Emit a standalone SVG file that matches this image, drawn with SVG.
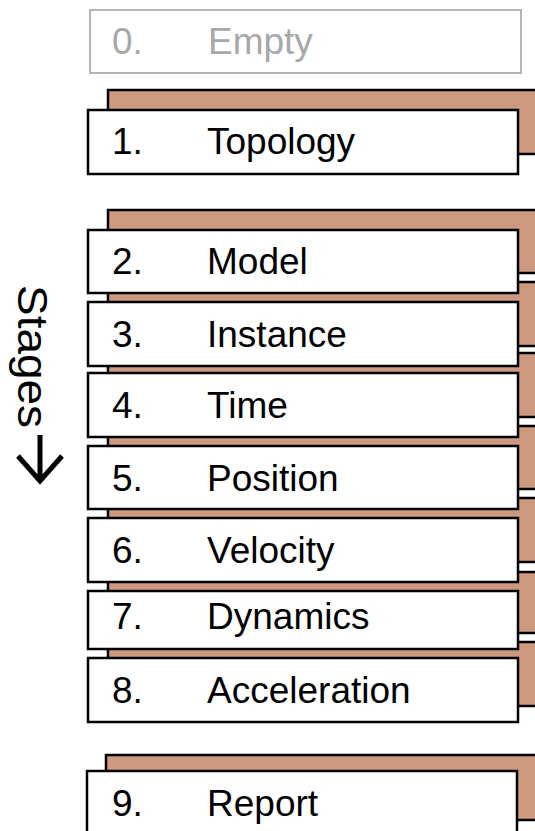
<svg xmlns="http://www.w3.org/2000/svg" width="535" height="831" viewBox="0 0 535 831">
<style>
.tab{fill:#CD9A80;stroke:#000;stroke-width:2.5}
.box{fill:#fff;stroke:#000;stroke-width:2.5}
.t{font-family:"Liberation Sans",Arial,sans-serif;font-size:37px;fill:#000}
.g{fill:#A8A8A8}
</style>
<rect width="535" height="831" fill="#fff"/>
<g id="connectors"/>
<g id="stage9"><rect class="tab" x="106" y="755" width="440" height="65"/><rect class="box" x="87" y="771" width="430" height="80"/><text class="t" x="112" y="816">9.</text><text class="t" x="207" y="816">Report</text></g>
<g id="stage8"><rect class="tab" x="108" y="642" width="440" height="64"/><rect class="box" x="88" y="658" width="430" height="64"/><text class="t" x="112" y="703">8.</text><text class="t" x="207" y="703">Acceleration</text></g>
<g id="stage7"><rect class="tab" x="108" y="572" width="440" height="61"/><rect class="box" x="88" y="591" width="430" height="58"/><text class="t" x="112" y="629">7.</text><text class="t" x="207" y="629">Dynamics</text></g>
<g id="stage6"><rect class="tab" x="108" y="498" width="440" height="64"/><rect class="box" x="88" y="518" width="430" height="64"/><text class="t" x="112" y="563">6.</text><text class="t" x="207" y="563">Velocity</text></g>
<g id="stage5"><rect class="tab" x="108" y="426" width="440" height="63"/><rect class="box" x="88" y="446" width="430" height="63"/><text class="t" x="112" y="491">5.</text><text class="t" x="207" y="491">Position</text></g>
<g id="stage4"><rect class="tab" x="108" y="353" width="440" height="64"/><rect class="box" x="88" y="373" width="430" height="64"/><text class="t" x="112" y="418">4.</text><text class="t" x="207" y="418">Time</text></g>
<g id="stage3"><rect class="tab" x="108" y="282" width="440" height="64"/><rect class="box" x="88" y="302" width="430" height="64"/><text class="t" x="112" y="347">3.</text><text class="t" x="207" y="347">Instance</text></g>
<g id="stage2"><rect class="tab" x="108" y="210" width="440" height="63"/><rect class="box" x="88" y="230" width="430" height="63"/><text class="t" x="112" y="274">2.</text><text class="t" x="207" y="274">Model</text></g>
<g id="stage1"><rect class="tab" x="108" y="90" width="440" height="64"/><rect class="box" x="88" y="110" width="430" height="64"/><text class="t" x="112" y="154">1.</text><text class="t" x="207" y="154">Topology</text></g>
<g id="stage0"><rect x="90" y="10" width="431" height="63" fill="#fff" stroke="#B4B4B4" stroke-width="2"/><text class="t g" x="112" y="54">0.</text><text class="t g" x="208" y="54">Empty</text></g>
<g id="label">
<text class="t" transform="translate(18,285) rotate(90)" x="0" y="0" textLength="143" lengthAdjust="spacingAndGlyphs" style="font-size:43px">Stages</text>
<path d="M40,435 V481 M18,456 L40,481 L62,456" fill="none" stroke="#000" stroke-width="5"/>
</g>
</svg>
